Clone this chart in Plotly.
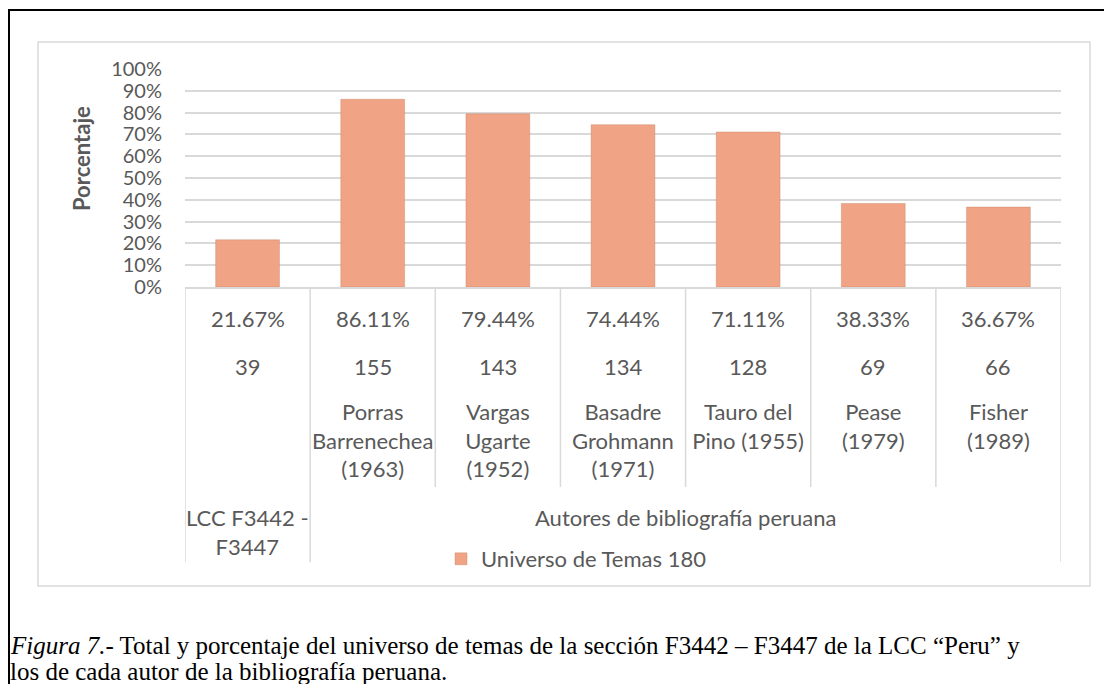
import plotly.graph_objects as go

# ---------------- data ----------------
categories = ["LCC F3442 - F3447", "Porras Barrenechea (1963)", "Vargas Ugarte (1952)",
              "Basadre Grohmann (1971)", "Tauro del Pino (1955)", "Pease (1979)", "Fisher (1989)"]
author_labels = ["", "Porras<br>Barrenechea<br>(1963)", "Vargas<br>Ugarte<br>(1952)",
                 "Basadre<br>Grohmann<br>(1971)", "Tauro del<br>Pino (1955)", "Pease<br>(1979)",
                 "Fisher<br>(1989)"]
percentages = [21.67, 86.11, 79.44, 74.44, 71.11, 38.33, 36.67]
counts = [39, 155, 143, 134, 128, 69, 66]
group_labels = ["LCC F3442 -<br>F3447", "Autores de bibliografía peruana"]
group_spans = [(0, 0), (1, 6)]
series_name = "Universo de Temas 180"
y_title = "Porcentaje"
caption_line1 = "<i>Figura 7.</i>- Total y porcentaje del universo de temas de la sección F3442 – F3447 de la LCC “Peru” y"
caption_line2 = "los de cada autor de la bibliografía peruana."

# ---------------- layout geometry (window pixels) ----------------
WIN_W, WIN_H = 1112, 684
OFF = 8                                  # page body margin
W, H = WIN_W - OFF, WIN_H - OFF
PL, PR, PT, PB = 185, 1061, 69, 287      # plot area in window pixels
PW, PH = PR - PL, PB - PT

def fx(X):  # window pixel -> paper x
    return (X - PL) / PW

def fy(Y):  # window pixel -> paper y
    return (PB - Y) / PH

GRAY = "#595959"
GRID = "#D9D9D9"
FONT = "Lato"
FS = 22
BAR = "#F0A485"

fig = go.Figure()
fig.add_trace(go.Bar(
    x=categories,
    y=[p / 100 for p in percentages],
    name=series_name,
    width=0.51,
    marker=dict(color=BAR, line=dict(color="rgba(190,120,90,0.35)", width=1)),
    hoverinfo="skip",
))

annotations = []
shapes = []

# table rows: percentages and counts
for i, cat in enumerate(categories):
    annotations.append(dict(x=cat, xref="x", y=fy(318), yref="paper", text=f"{percentages[i]:.2f}%",
                            showarrow=False, xanchor="center", yanchor="middle",
                            font=dict(family=FONT, size=FS, color=GRAY)))
    annotations.append(dict(x=cat, xref="x", y=fy(366), yref="paper", text=str(counts[i]),
                            showarrow=False, xanchor="center", yanchor="middle",
                            font=dict(family=FONT, size=FS, color=GRAY)))

# group labels
annotations.append(dict(x=0, xref="x", y=fy(532), yref="paper", text=group_labels[0],
                        showarrow=False, xanchor="center", yanchor="middle",
                        font=dict(family=FONT, size=FS, color=GRAY)))
annotations.append(dict(x=(group_spans[1][0] + group_spans[1][1]) / 2, xref="x", y=fy(517), yref="paper",
                        text=group_labels[1], showarrow=False, xanchor="center", yanchor="middle",
                        font=dict(family=FONT, size=FS, color=GRAY)))

# y-axis title
annotations.append(dict(x=fx(81), xref="paper", y=fy(159), yref="paper", text=f"<b>{y_title}</b>",
                        textangle=-90, showarrow=False, xanchor="center", yanchor="middle",
                        font=dict(family=FONT, size=22, color=GRAY)))

# caption
annotations.append(dict(x=fx(8), xref="paper", y=fy(645), yref="paper", text=caption_line1,
                        showarrow=False, xanchor="left", yanchor="middle",
                        font=dict(family="Liberation Serif", size=25, color="black")))
annotations.append(dict(x=fx(8), xref="paper", y=fy(671), yref="paper", text=caption_line2,
                        showarrow=False, xanchor="left", yanchor="middle",
                        font=dict(family="Liberation Serif", size=25, color="black")))

# table dividers
n = len(categories)
group_edges = {group_spans[0][0], group_spans[1][0], group_spans[1][1] + 1}
for k in range(n + 1):
    y_end = 562 if k in group_edges else 487
    shapes.append(dict(type="line", xref="x", yref="paper", x0=k - 0.5, x1=k - 0.5,
                       y0=0, y1=fy(y_end), line=dict(color=GRID, width=1.5)))

# chart area border
shapes.append(dict(type="rect", xref="paper", yref="paper", x0=fx(38), x1=fx(1090),
                   y0=fy(586), y1=fy(42), line=dict(color=GRID, width=1.5), layer="below"))
# outer black frame (left and top)
shapes.append(dict(type="line", xref="paper", yref="paper", x0=fx(9), x1=fx(9),
                   y0=fy(9), y1=fy(WIN_H + 5), line=dict(color="black", width=2)))
shapes.append(dict(type="line", xref="paper", yref="paper", x0=fx(8), x1=fx(WIN_W + 5),
                   y0=fy(10), y1=fy(10), line=dict(color="black", width=2)))

fig.update_layout(
    width=W, height=H,
    margin=dict(l=PL - OFF, r=WIN_W - PR, t=PT - OFF, b=WIN_H - PB, pad=0),
    paper_bgcolor="white", plot_bgcolor="white",
    font=dict(family=FONT, size=FS, color=GRAY),
    showlegend=True,
    legend=dict(x=fx(441), y=fy(559), xanchor="left", yanchor="middle", orientation="h",
                font=dict(family=FONT, size=FS, color=GRAY), itemwidth=30,
                bgcolor="rgba(0,0,0,0)"),
    annotations=annotations,
    shapes=shapes,
    xaxis=dict(type="category", categoryorder="array", categoryarray=categories,
               tickmode="array", tickvals=categories, ticktext=author_labels,
               showline=True, linecolor=GRID, linewidth=1.5, showgrid=False, ticks="",
               ticklabelstandoff=105, automargin=False, range=[-0.5, n - 0.5],
               tickfont=dict(family=FONT, size=FS, color=GRAY)),
    yaxis=dict(range=[0, 1], dtick=0.1, tickformat=".0%", showgrid=True, gridcolor=GRID,
               gridwidth=1.5, zeroline=False, showline=False, ticks="",
               ticklabelstandoff=22, automargin=False,
               tickfont=dict(family=FONT, size=20, color=GRAY)),
)

fig.write_html("out.html")
